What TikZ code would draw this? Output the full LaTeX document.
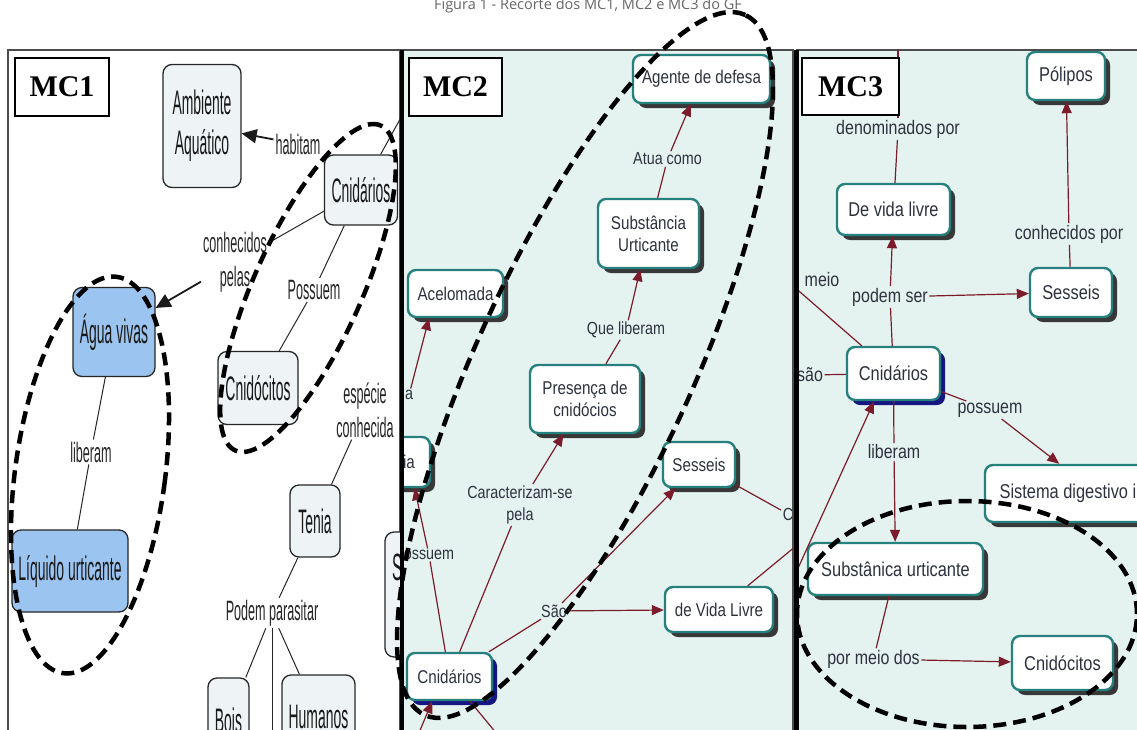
\documentclass[tikz,border=0pt]{standalone}
\usepackage{fontspec}
\setmainfont{Liberation Sans}
\newfontfamily\fone[FakeStretch=0.41]{Liberation Sans}
\newfontfamily\flab[FakeStretch=0.45]{Liberation Sans}
\newfontfamily\ftwo[FakeStretch=0.82]{Liberation Sans}
\newfontfamily\fmc{Liberation Serif}
\newfontfamily\ftitle{Open Sans}
\usetikzlibrary{shadows,arrows.meta,calc}
\definecolor{mint}{RGB}{229,243,240}
\definecolor{nonefill}{RGB}{238,243,246}
\definecolor{bluefill}{RGB}{155,196,240}
\definecolor{tealb}{RGB}{38,128,125}
\definecolor{dred}{RGB}{122,28,44}
\definecolor{txttwo}{RGB}{45,50,62}
\definecolor{navysh}{RGB}{22,22,130}
\begin{document}
\begin{tikzpicture}[x=1pt,y=-1pt,
  sz/.style 2 args={minimum width=#1pt, minimum height=#2pt},
  mcbox/.style={draw=black, line width=1.3pt, fill=white, inner sep=0pt, font=\fmc\bfseries\fontsize{30}{32}\selectfont},
  none/.style={draw=black!85, line width=1.3pt, fill=nonefill, rounded corners=9pt, inner sep=0pt, align=center, text=black!90, font=\fone\fontsize{34}{40}\selectfont},
  blue/.style={none, fill=bluefill},
  lone/.style={inner sep=2pt, align=center, text=black!85, font=\flab\fontsize{28}{34}\selectfont},
  cone/.style={draw=black!85, line width=1pt},
  aone/.style={draw=black!90, line width=1.8pt, -{Triangle[length=15pt,width=14pt]}},
  ntwobase/.style={draw=tealb, line width=2.4pt, fill=white, rounded corners=8pt, inner sep=0pt, align=center, text=txttwo, font=\ftwo\fontsize{18.5}{22}\selectfont},
  ntwo/.style={ntwobase, drop shadow={shadow xshift=5pt, shadow yshift=-5pt, fill=black!78, opacity=1}},
  ntwonavy/.style={ntwobase, drop shadow={shadow xshift=5pt, shadow yshift=-5pt, fill=navysh, opacity=1}},
  nthree/.style={ntwo, font=\ftwo\fontsize{20}{24}\selectfont},
  nthreenavy/.style={ntwonavy, font=\ftwo\fontsize{20}{24}\selectfont},
  ltwo/.style={inner sep=1.5pt, align=center, text=txttwo, font=\ftwo\fontsize{17.5}{22}\selectfont},
  lthree/.style={ltwo, font=\ftwo\fontsize{19.5}{23}\selectfont},
  ctwo/.style={draw=dred, line width=1.2pt},
  atwo/.style={ctwo, -{Triangle[length=12pt,width=10pt]}},
  ell/.style={draw=black, line width=4.5pt, dash pattern=on 13pt off 7pt}
]
\useasboundingbox (0,0) rectangle (1137,729);
\clip (0,0) rectangle (1137,729);
\fill[white] (0,0) rectangle (1137,729);

% title
\node[font=\ftitle\fontsize{14.5}{16}\selectfont, text=black!60, anchor=base, inner sep=0pt] (title) at (588,9) {Figura 1 - Recorte dos MC1, MC2 e MC3 do GF};

% panels
\filldraw[fill=white, draw=black!70, line width=1.2pt] (8,50) rectangle (400,760);
\filldraw[fill=mint, draw=black!70, line width=1.2pt] (400,50) rectangle (793,760);
\filldraw[fill=mint, draw=black!70, line width=1.2pt] (797,50) rectangle (1160,760);

% ---------------- MC1 ----------------
\begin{scope}
\clip (8,50) rectangle (400,760);
\node[none, sz={78}{123}] (amb) at (202,126) {Ambiente\\Aquático};
\node[none, sz={73}{70}] (cn1) at (361,190) {Cnidários};
\node[blue, sz={82}{89}] (agua) at (114,332) {Água vivas};
\node[blue, sz={116}{82}] (liq) at (70,571) {Líquido urticante};
\node[none, sz={80}{73}] (cnido1) at (258,388) {Cnidócitos};
\node[none, sz={50}{72}] (tenia) at (315,521) {Tenia};
\node[none, sz={41}{84}] (bois) at (228.5,720) {Bois};
\node[none, sz={73}{84}] (hum) at (318.5,717) {Humanos};
\node[none, sz={60}{125}] (snode) at (415,594.5) {};
\node[inner sep=0pt, anchor=west, text=black!90, font=\fone\fontsize{38}{40}\selectfont] (stxt) at (392,567) {S};

\node[lone] (habit) at (298,144) {habitam};
\node[lone] (conhec) at (235,262) {conhecidos\\pelas};
\node[lone] (poss1) at (314,290) {Possuem};
\node[lone] (lib1) at (91,452) {liberam};
\node[lone] (esp) at (365,410) {espécie\\conhecida};
\node[lone] (podpar) at (272,613) {Podem parasitar};
\coordinate (pbot) at (272,760);
\coordinate (cnup) at (404,112);

\draw[aone] (habit) -- (amb);
\draw[cone] (cn1) -- (conhec);
\draw[aone] (conhec) -- (agua);
\draw[cone] (cn1) -- (poss1);
\draw[cone] (poss1) -- (cnido1);
\draw[cone] (agua) -- (lib1);
\draw[cone] (lib1) -- (liq);
\draw[cone] (esp) -- (tenia);
\draw[cone] (tenia) -- (podpar);
\draw[cone] (podpar) -- (bois);
\draw[cone] (podpar) -- (pbot);
\draw[cone] (podpar) -- (hum);
\draw[cone] (cn1) -- (cnup);
\end{scope}

% ---------------- MC2 ----------------
\begin{scope}
\clip (400,50) rectangle (793,760);
\node[ntwo, sz={137}{48}] (agente) at (701.5,79) {Agente de defesa};
\node[ntwo, sz={101}{69}] (subst) at (648.5,233.5) {Substância\\Urticante};
\node[ntwo, sz={95}{47}] (acel) at (455.5,293.5) {Acelomada};
\node[ntwo, sz={110}{68}] (pres) at (585,399) {Presença de\\cnidócios};
\node[ntwo, sz={42}{50}] (ia) at (409,462) {ia};
\node[ntwo, sz={72}{45}] (sess2) at (699,464.5) {Sesseis};
\node[ntwo, sz={108}{45}] (vida2) at (719,609.5) {de Vida Livre};
\node[ntwonavy, sz={85}{47}] (cn2) at (449.5,676.5) {Cnidários};

\node[ltwo] (atua) at (667.5,159) {Atua como};
\node[ltwo] (queLib) at (626,330) {Que liberam};
\node[ltwo] (carac) at (520,505) {Caracterizam-se\\pela};
\node[ltwo] (sao2) at (554,611) {São};
\node[ltwo] (alab) at (409,395) {a};
\node[ltwo] (ossu) at (429,555) {ossuem};
\node[ltwo] (clab) at (788,514) {C};
\coordinate (v2out) at (802,541);
\coordinate (c2in) at (416,740);
\coordinate (c2out) at (502,740);

\draw[ctwo] (subst) -- (atua);
\draw[atwo] (atua) -- (agente);
\draw[ctwo] (pres) -- (queLib);
\draw[atwo] (queLib) -- (subst);
\draw[ctwo] (cn2) -- (carac);
\draw[atwo] (carac) -- (pres);
\draw[ctwo] (cn2) -- (sao2);
\draw[atwo] (sao2) -- (sess2);
\draw[atwo] (sao2) -- (vida2);
\draw[ctwo] (cn2) -- (ossu);
\draw[atwo] (ossu) -- (ia);
\draw[atwo] (alab) -- (acel.223);
\draw[ctwo] (sess2) -- (clab);
\draw[ctwo] (vida2) -- (v2out);
\draw[atwo] (c2in) -- (cn2.235);
\draw[ctwo] (cn2) -- (c2out);
\end{scope}

% ---------------- MC3 ----------------
\begin{scope}
\clip (797,50) rectangle (1160,760);
\node[nthree, sz={78}{48}] (pol) at (1066,76) {Pólipos};
\node[nthree, sz={113}{51}] (dvl) at (893.5,209.5) {De vida livre};
\node[nthree, sz={82}{49}] (sess3) at (1071,292.5) {Sesseis};
\node[nthreenavy, sz={93}{53}] (cn3) at (893.5,373.5) {Cnidários};
\node[nthree, sz={175}{57}] (sist) at (1072.5,493.5) {Sistema digestivo in};
\node[nthree, sz={175}{52}] (subU) at (895.5,569) {Substânica urticante};
\node[nthree, sz={101}{54}] (cnido3) at (1062.5,663) {Cnidócitos};

\node[lthree] (denom) at (898,129) {denominados por};
\node[lthree] (conhPor) at (1069,234) {conhecidos por};
\node[lthree] (meio) at (822,280) {meio};
\node[lthree] (podem) at (890,297) {podem ser};
\node[lthree] (sao3) at (810,375) {são};
\node[lthree] (poss3) at (990,410) {possuem};
\node[lthree] (lib3) at (894,452) {liberam};
\node[lthree] (porMeio) at (873.5,659) {por meio dos};
\coordinate (dtop) at (898,40);
\coordinate (m3in) at (792,285);
\coordinate (u3in) at (794,577);

\draw[ctwo] (dvl) -- (denom);
\draw[ctwo] (denom) -- (dtop);
\draw[atwo] (podem) -- (dvl);
\draw[ctwo] (cn3) -- (podem);
\draw[atwo] (podem) -- (sess3);
\draw[ctwo] (sess3) -- (conhPor);
\draw[atwo] (conhPor) -- (pol);
\draw[ctwo] (m3in) -- (cn3);
\draw[ctwo] (sao3) -- (cn3);
\draw[ctwo] (cn3) -- (poss3);
\draw[atwo] (poss3) -- (sist.114);
\draw[ctwo] (cn3) -- (lib3);
\draw[atwo] (lib3) -- (subU);
\draw[ctwo] (subU) -- (porMeio);
\draw[atwo] (porMeio) -- (cnido3);
\draw[atwo] (u3in) -- (cn3.235);
\end{scope}

% thick dividers
\draw[line width=4.5pt] (402,50) -- (402,760);
\draw[line width=4.5pt] (796.5,50) -- (796.5,760);

% MC labels
\node[mcbox, sz={94}{58}] (mcone) at (62,87) {MC1};
\node[mcbox, sz={93}{58}] (mctwo) at (455.5,87) {MC2};
\node[mcbox, sz={97}{57}] (mcthree) at (850.5,86.5) {MC3};

% dashed ellipses
\draw[ell, rotate around={-7.7:(90,475)}] (90,475) ellipse [x radius=75pt, y radius=200pt];
\draw[ell, rotate around={65.9:(308,288)}] (308,288) ellipse [x radius=178pt, y radius=54pt];
\draw[ell, rotate around={65.4:(585,365)}] (585,365) ellipse [x radius=385pt, y radius=108pt];
\draw[ell] (967,614) ellipse [x radius=170pt, y radius=113pt];
\end{tikzpicture}
\end{document}
